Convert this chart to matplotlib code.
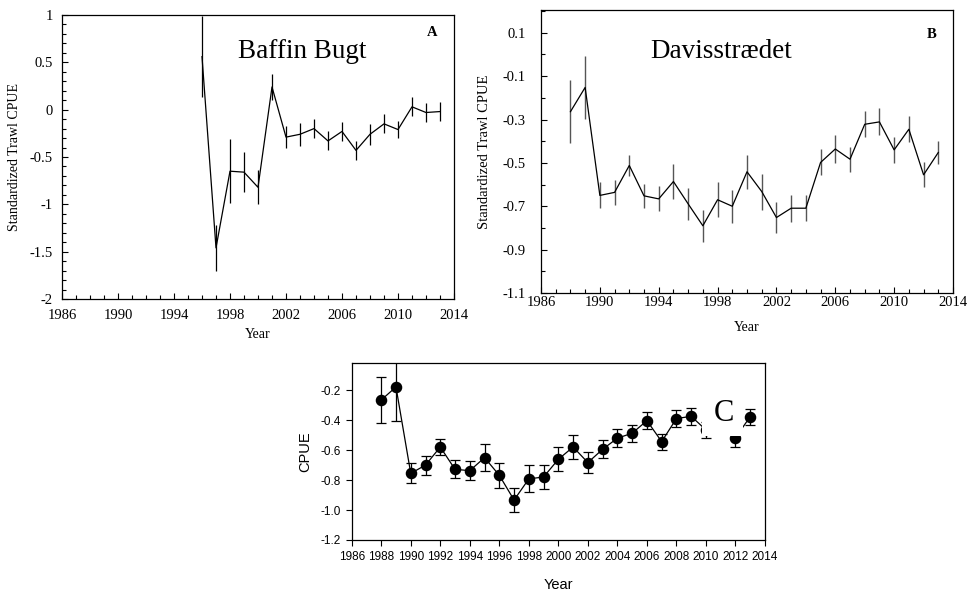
import matplotlib
matplotlib.use("Agg")
import matplotlib.pyplot as plt
from matplotlib.ticker import MultipleLocator, FormatStrFormatter
from matplotlib.patches import Rectangle

plt.rcParams['axes.unicode_minus'] = False

# ---------------- data ----------------
years_a = list(range(1996, 2014))
cpue_a = [0.56, -1.46, -0.65, -0.66, -0.82, 0.24, -0.29, -0.26, -0.20, -0.33,
          -0.23, -0.43, -0.26, -0.15, -0.21, 0.03, -0.03, -0.02]
err_a = [0.43, 0.24, 0.34, 0.21, 0.18, 0.14, 0.12, 0.12, 0.10, 0.10,
         0.10, 0.10, 0.11, 0.10, 0.09, 0.10, 0.10, 0.10]

years_b = list(range(1988, 2014))
cpue_b = [-0.264, -0.152, -0.650, -0.636, -0.512, -0.652, -0.666, -0.586, -0.689,
          -0.790, -0.670, -0.700, -0.541, -0.632, -0.752, -0.709, -0.709, -0.498,
          -0.436, -0.483, -0.322, -0.311, -0.440, -0.345, -0.555, -0.452]
err_b = [0.145, 0.144, 0.060, 0.058, 0.050, 0.055, 0.058, 0.080, 0.075, 0.074,
         0.080, 0.077, 0.078, 0.083, 0.071, 0.063, 0.060, 0.060, 0.064, 0.058,
         0.059, 0.062, 0.060, 0.060, 0.058, 0.052]

years_c = list(range(1988, 2014))
cpue_c = [-0.265, -0.178, -0.755, -0.700, -0.579, -0.728, -0.737, -0.650, -0.768,
          -0.933, -0.792, -0.779, -0.661, -0.579, -0.683, -0.594, -0.520, -0.487,
          -0.403, -0.543, -0.389, -0.374, -0.465, -0.420, -0.517, -0.376]
err_c = [0.156, 0.225, 0.067, 0.063, 0.051, 0.059, 0.064, 0.090, 0.083, 0.078,
         0.090, 0.083, 0.079, 0.082, 0.068, 0.061, 0.058, 0.057, 0.057, 0.053,
         0.059, 0.058, 0.055, 0.058, 0.060, 0.053]

xticks_ab = [1986, 1990, 1994, 1998, 2002, 2006, 2010, 2014]
yticks_a = [1, 0.5, 0, -0.5, -1, -1.5, -2]
ytick_labels_a = ['1', '0.5', '0', '-0.5', '-1', '-1.5', '-2']
yticks_b = [0.1, -0.1, -0.3, -0.5, -0.7, -0.9, -1.1]
xticks_c = list(range(1986, 2015, 2))
yticks_c = [-0.2, -0.4, -0.6, -0.8, -1.0, -1.2]

serif = 'Liberation Serif'
sans = 'Liberation Sans'

fig = plt.figure(figsize=(9.7, 5.92), dpi=100)

def style_serif(ax, ypad, xpad):
    for s in ax.spines.values():
        s.set_linewidth(0.9)
    ax.tick_params(which='both', direction='in', top=False, right=False)
    ax.tick_params(which='major', length=4, width=0.8)
    ax.tick_params(which='minor', length=3, width=0.8)
    ax.tick_params(axis='y', which='both', pad=ypad)
    ax.tick_params(axis='x', which='both', pad=xpad)
    ax.xaxis.set_minor_locator(MultipleLocator(1))
    for lab in ax.get_xticklabels() + ax.get_yticklabels():
        lab.set_fontfamily(serif)
        lab.set_fontsize(10.5)

# ---------------- Panel A ----------------
axA = fig.add_axes([62/970, 1-299/592, 392/970, 284/592])
axA.errorbar(years_a, cpue_a, yerr=err_a, color='black', lw=0.9,
             elinewidth=0.9, capsize=0)
axA.set_xlim(1986, 2014)
axA.set_ylim(-2, 1)
axA.set_xticks(xticks_ab)
axA.set_xticklabels([str(x) for x in xticks_ab])
axA.set_yticks(yticks_a)
axA.set_yticklabels(ytick_labels_a)
axA.yaxis.set_minor_locator(MultipleLocator(0.1))
style_serif(axA, 6.5, 7.5)
axA.set_xlabel('Year', fontfamily=serif, fontsize=10, labelpad=4)
axA.set_ylabel('Standardized Trawl CPUE', fontfamily=serif, fontsize=10, labelpad=6)
axA.text(0.613, 0.87, 'Baffin Bugt', transform=axA.transAxes, fontfamily=serif,
         fontsize=19.5, ha='center', va='center')
axA.text(0.944, 0.937, 'A', transform=axA.transAxes, fontfamily=serif,
         fontsize=10.5, fontweight='bold', ha='center', va='center')

# ---------------- Panel B ----------------
axB = fig.add_axes([541/970, 1-293/592, 412/970, 283/592])
axB.errorbar(years_b, cpue_b, yerr=err_b, color='black', lw=0.9,
             ecolor='#555555', elinewidth=1.0, capsize=0)
axB.set_xlim(1986, 2014)
axB.set_ylim(-1.1, 0.205)
axB.set_xticks(xticks_ab)
axB.set_xticklabels([str(x) for x in xticks_ab])
axB.set_yticks(yticks_b)
axB.yaxis.set_major_formatter(FormatStrFormatter('%.1f'))
axB.yaxis.set_minor_locator(MultipleLocator(0.1))
style_serif(axB, 11, 2.5)
axB.set_xlabel('Year', fontfamily=serif, fontsize=10, labelpad=8)
axB.set_ylabel('Standardized Trawl CPUE', fontfamily=serif, fontsize=10.5, labelpad=8)
axB.text(0.437, 0.852, 'Davisstrædet', transform=axB.transAxes, fontfamily=serif,
         fontsize=19.5, ha='center', va='center')
axB.text(0.949, 0.912, 'B', transform=axB.transAxes, fontfamily=serif,
         fontsize=10.5, fontweight='bold', ha='center', va='center')

# ---------------- Panel C ----------------
axC = fig.add_axes([351.7/970, 1-540/592, 413.3/970, 176.7/592])
axC.errorbar(years_c, cpue_c, yerr=err_c, color='black', lw=0.9, marker='o',
             markersize=7.3, elinewidth=0.9, capsize=3.6, capthick=0.9, zorder=2)
axC.set_xlim(1986, 2014)
axC.set_ylim(-1.2, -0.02)
axC.set_xticks(xticks_c)
axC.set_yticks(yticks_c)
axC.yaxis.set_major_formatter(FormatStrFormatter('%.1f'))
for s in axC.spines.values():
    s.set_linewidth(0.9)
axC.tick_params(direction='out', length=4, width=0.8, labelsize=8.5, pad=4)
for lab in axC.get_xticklabels() + axC.get_yticklabels():
    lab.set_fontfamily(sans)
axC.set_xlabel('Year', fontfamily=sans, fontsize=10.5, labelpad=11)
axC.set_ylabel('CPUE', fontfamily=sans, fontsize=10.5, labelpad=6)
axC.add_patch(Rectangle((0.848, 0.589), 0.099, 0.411, transform=axC.transAxes,
                        facecolor='white', edgecolor='none', zorder=2.2))
axC.text(0.90, 0.715, 'C', transform=axC.transAxes, fontfamily=serif,
         fontsize=22, ha='center', va='center', zorder=3)

fig.savefig('out.png', dpi=100)
